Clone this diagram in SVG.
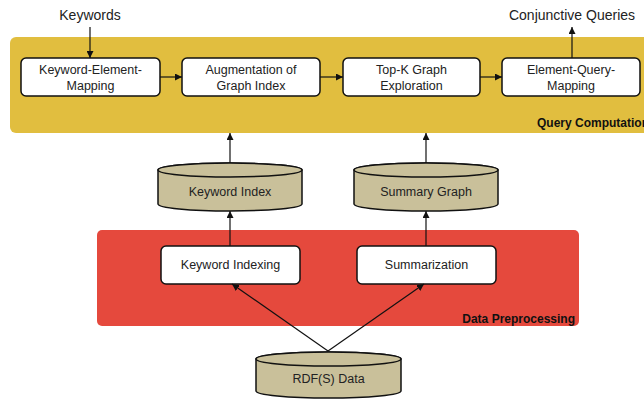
<svg xmlns="http://www.w3.org/2000/svg" width="644" height="400" viewBox="0 0 644 400">
<style>
text{font-family:"Liberation Sans",Arial,sans-serif;fill:#222;}
.t{font-size:12.5px;text-anchor:middle;}
.big{font-size:14px;text-anchor:middle;}
.lbl{font-size:12px;font-weight:bold;fill:#111;}
.box{fill:#fff;stroke:#111;stroke-width:1.5;}
.cyl{fill:#C9C09A;stroke:#111;stroke-width:1.5;}
.con{stroke:#111;stroke-width:1.2;fill:none;}
</style>
<defs>
<marker id="ah" viewBox="0 0 10 10" refX="10" refY="5" markerWidth="7" markerHeight="7" markerUnits="userSpaceOnUse" orient="auto">
<path d="M0,0 L10,5 L0,10 z" fill="#111"/>
</marker>
</defs>
<g id="query-computation">
<rect x="10" y="37" width="660" height="96" rx="6" fill="#E1BE3F"/>
<text class="lbl" x="537" y="127">Query Computation</text>
</g>
<g id="data-preprocessing">
<rect x="97" y="230" width="482" height="96" rx="5" fill="#E5493D"/>
<text class="lbl" x="575" y="323" text-anchor="end">Data Preprocessing</text>
</g>
<g id="keywords"><text class="big" x="90" y="20">Keywords</text></g>
<g id="conjunctive-queries"><text class="big" x="572" y="20">Conjunctive Queries</text></g>
<g id="kem">
<rect class="box" x="21" y="58" width="139" height="38" rx="5"/>
<text class="t" x="90.5" y="74">Keyword-Element-</text>
<text class="t" x="90.5" y="90">Mapping</text>
</g>
<g id="aug">
<rect class="box" x="182" y="58" width="138" height="38" rx="5"/>
<text class="t" x="251" y="74">Augmentation of</text>
<text class="t" x="251" y="90">Graph Index</text>
</g>
<g id="topk">
<rect class="box" x="343" y="58" width="137" height="38" rx="5"/>
<text class="t" x="411.5" y="74">Top-K Graph</text>
<text class="t" x="411.5" y="90">Exploration</text>
</g>
<g id="eqm">
<rect class="box" x="502" y="58" width="138" height="38" rx="5"/>
<text class="t" x="571" y="74">Element-Query-</text>
<text class="t" x="571" y="90">Mapping</text>
</g>
<g id="keyword-index">
<path class="cyl" d="M158,170 L158,204 A72,7 0 0 0 302,204 L302,170 A72,7 0 0 0 158,170 Z"/>
<ellipse class="cyl" cx="230" cy="170" rx="72" ry="7"/>
<text class="t" x="230" y="196">Keyword Index</text>
</g>
<g id="summary-graph">
<path class="cyl" d="M354,170 L354,204 A72,7 0 0 0 498,204 L498,170 A72,7 0 0 0 354,170 Z"/>
<ellipse class="cyl" cx="426" cy="170" rx="72" ry="7"/>
<text class="t" x="426" y="196">Summary Graph</text>
</g>
<g id="keyword-indexing">
<rect class="box" x="161" y="246" width="139" height="38" rx="5"/>
<text class="t" x="230.5" y="269">Keyword Indexing</text>
</g>
<g id="summarization">
<rect class="box" x="357" y="246" width="139" height="38" rx="5"/>
<text class="t" x="426.5" y="269">Summarization</text>
</g>
<g id="rdf-data">
<path class="cyl" d="M256,359 L256,391 A72.5,7 0 0 0 401,391 L401,359 A72.5,7 0 0 0 256,359 Z"/>
<ellipse class="cyl" cx="328.5" cy="359" rx="72.5" ry="7"/>
<text class="t" x="328.5" y="383">RDF(S) Data</text>
</g>
<g id="connectors">
<line class="con" x1="90" y1="27" x2="90" y2="58" marker-end="url(#ah)"/>
<line class="con" x1="572" y1="58" x2="572" y2="27" marker-end="url(#ah)"/>
<line class="con" x1="160" y1="77" x2="182" y2="77" marker-end="url(#ah)"/>
<line class="con" x1="320" y1="77" x2="343" y2="77" marker-end="url(#ah)"/>
<line class="con" x1="480" y1="77" x2="502" y2="77" marker-end="url(#ah)"/>
<line class="con" x1="230" y1="163" x2="230" y2="133" marker-end="url(#ah)"/>
<line class="con" x1="426" y1="163" x2="426" y2="133" marker-end="url(#ah)"/>
<line class="con" x1="230" y1="246" x2="230" y2="211" marker-end="url(#ah)"/>
<line class="con" x1="426" y1="246" x2="426" y2="211" marker-end="url(#ah)"/>
<line class="con" x1="328" y1="351" x2="232" y2="284" marker-end="url(#ah)"/>
<line class="con" x1="328" y1="351" x2="424" y2="284" marker-end="url(#ah)"/>
</g>
</svg>
